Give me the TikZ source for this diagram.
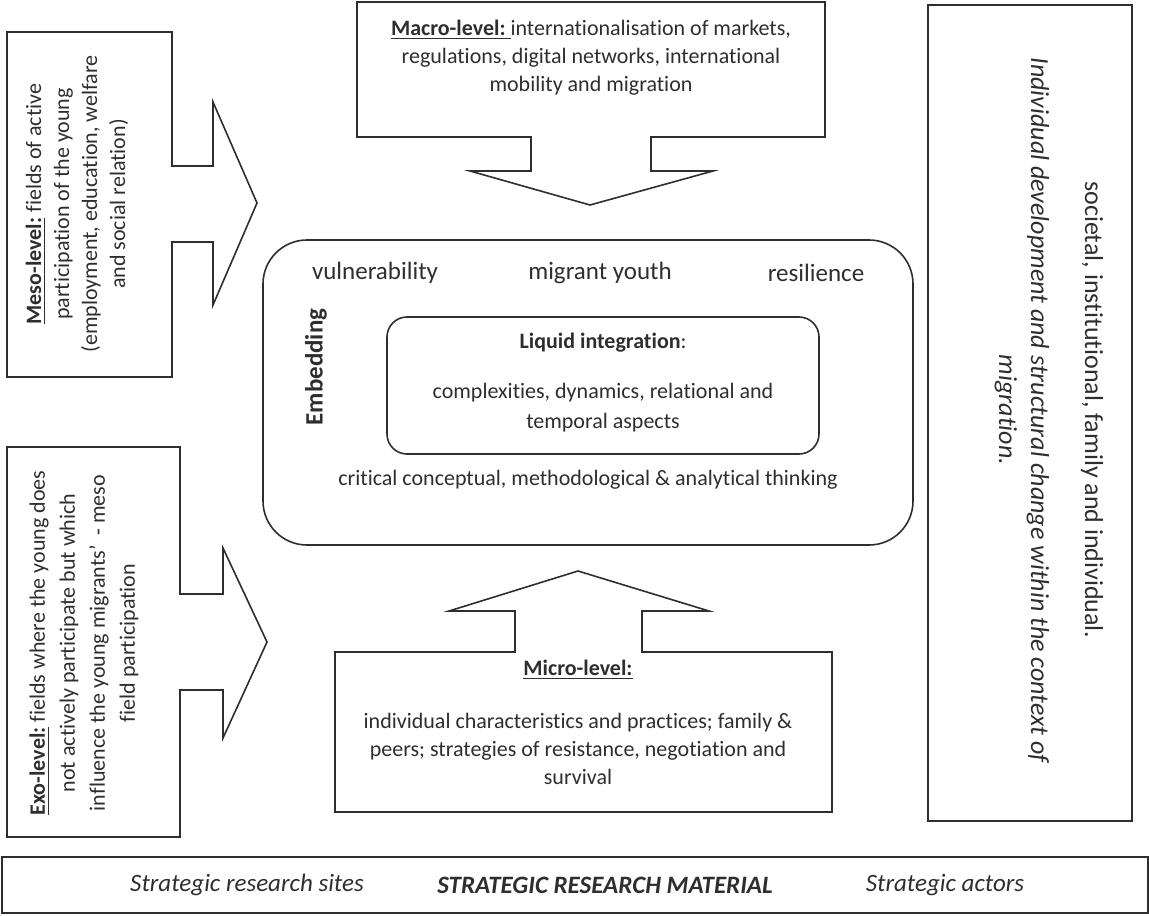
\documentclass[tikz,border=0pt]{standalone}
\usepackage{fontspec}
\setmainfont{Carlito}[Ligatures={NoCommon}]
\definecolor{ink}{HTML}{2E2E2E}
\newcommand{\lvlname}[1]{\underline{\textbf{#1}}}
\begin{document}
\begin{tikzpicture}[x=0.5pt,y=-0.5pt,line width=0.8pt,draw=ink,text=ink,
  font=\fontsize{11}{14}\selectfont]

\useasboundingbox (0,0) rectangle (1149,915);

% Macro level box with arrow down
\draw (357,2) -- (825,2) -- (825,137) -- (651,137) -- (651,171) -- (713,171)
  -- (590,205) -- (470,171) -- (531,171) -- (531,137) -- (357,137) -- cycle;
\node[align=center] (macro) at (591,58)
{\lvlname{Macro-level:\ }internationalisation of markets,\\regulations, digital networks, international\\mobility and migration};

% Meso level box with arrow right
\draw (7,32) -- (172,32) -- (172,166) -- (213,166) -- (213,102) -- (257,203)
  -- (213,305) -- (213,242) -- (172,242) -- (172,377) -- (7,377) -- cycle;
\node[align=center,rotate=90] (meso) at (77,204)
{\lvlname{Meso-level:} fields of active\\participation of the young\\(employment, education, welfare\\and social relation)};

% Exo level box with arrow right
\draw (7,447) -- (180,447) -- (180,594) -- (223,594) -- (223,548) -- (267,642)
  -- (223,738) -- (223,690) -- (180,690) -- (180,837) -- (7,837) -- cycle;
\node[align=center,rotate=90,font=\fontsize{11}{15}\selectfont] (exo) at (84,643)
{\lvlname{Exo-level:} fields where the young does\\not actively participate but which\\influence the young migrants’~ - meso\\field participation};

% Micro level box with arrow up
\draw (335,652) -- (515,652) -- (515,611) -- (449,611) -- (578,571) -- (709,611)
  -- (642,611) -- (642,652) -- (832,652) -- (832,812) -- (335,812) -- cycle;
\node (microhead) at (578,670) {\lvlname{Micro-level:}};
\node[align=center] (micro) at (578,749)
{individual characteristics and practices; family \&\\peers; strategies of resistance, negotiation and\\survival};

% Outer rounded box
\draw[rounded corners=22pt] (263,240) rectangle (913,545);
\node[font=\fontsize{12.5}{15}\selectfont] (vuln) at (375,273) {vulnerability};
\node[font=\fontsize{12.5}{15}\selectfont] (youth) at (600,273) {migrant youth};
\node[font=\fontsize{12.5}{15}\selectfont] (resil) at (816,273) {resilience};
\node[rotate=90,font=\fontsize{12.5}{15}\bfseries] (embed) at (316,367) {Embedding};
\node (critical) at (588,480) {critical conceptual, methodological \& analytical thinking};

% Inner rounded box
\draw[rounded corners=10pt] (387,317) rectangle (819,454);
\node (liquid) at (603,343) {\textbf{Liquid integration}:};
\node[align=center,font=\fontsize{11}{15}\selectfont] (aspects) at (603,408)
{complexities, dynamics, relational and\\temporal aspects};

% Right box
\draw (928,5) rectangle (1132,821);
\node[align=center,rotate=-90,font=\fontsize{13}{16}\selectfont] (change) at (1049,410)
{societal, institutional, family and individual.\\[11pt]
\itshape Individual development and structural change within the context of\\\itshape migration.};

% Bottom bar
\draw (2,857) rectangle (1148,913);
\node[font=\fontsize{12.5}{15}\itshape] (sites) at (247,885) {Strategic research sites};
\node[font=\fontsize{12.5}{15}\bfseries\itshape] (material) at (605,885) {STRATEGIC RESEARCH MATERIAL};
\node[font=\fontsize{12.5}{15}\itshape] (actors) at (945,885) {Strategic actors};

\end{tikzpicture}
\end{document}
